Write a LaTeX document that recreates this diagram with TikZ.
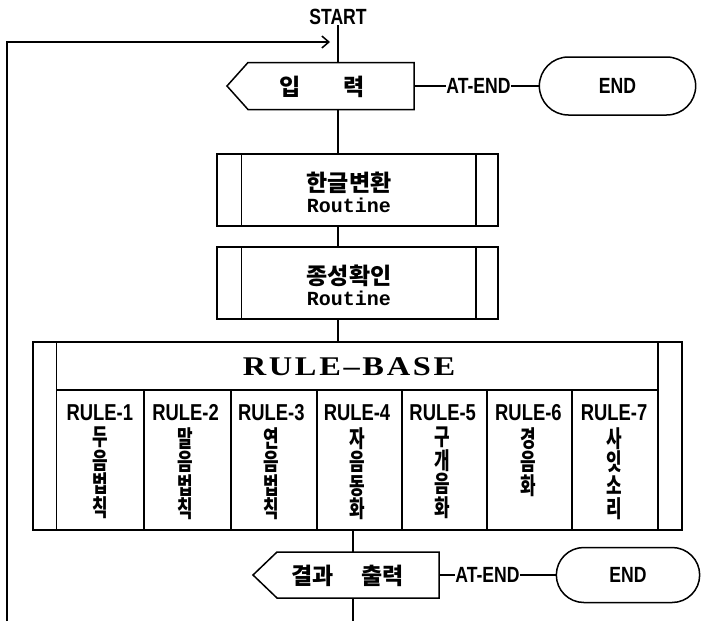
\documentclass[tikz,border=0pt]{standalone}
\usepackage{fontspec}
\setmainfont{Noto Sans CJK KR}
\newfontfamily\krnarrow{Noto Sans CJK KR}[FakeStretch=0.72]
\newfontfamily\latnarrow{Liberation Sans}[FakeStretch=0.8]
\newfontfamily\routmono{Liberation Mono}
\newfontfamily\headserif{Liberation Serif}[FakeStretch=1.2,LetterSpace=10]
\usetikzlibrary{arrows.meta,shapes.misc}

\tikzset{
  line/.style={line width=1.5pt},
  iobox/.style={inner sep=0pt, outer sep=0pt},
  subbox/.style={draw, line width=1.5pt, inner sep=0pt, minimum width=281pt, minimum height=72pt},
  endbox/.style={draw, rounded rectangle, line width=1.5pt, font=\latnarrow\bfseries\fontsize{22pt}{22pt}\selectfont},
  latin/.style={font=\latnarrow\bfseries\fontsize{22pt}{22pt}\selectfont, inner sep=0.5pt},
  hangul/.style={font=\bfseries\fontsize{23pt}{21pt}\selectfont, align=center, inner sep=0pt},
  rulename/.style={font=\latnarrow\bfseries\fontsize{23pt}{23pt}\selectfont, inner sep=0pt},
  ruletext/.style={font=\krnarrow\bfseries\fontsize{23.5pt}{23.5pt}\selectfont, align=center, inner sep=0pt, anchor=north}
}

\newcommand{\routword}{{\routmono\bfseries\fontsize{20pt}{21pt}\selectfont Routine}}

\begin{document}
\begin{tikzpicture} [x=1pt,y=-1pt]

\useasboundingbox (0,0) rectangle (706,621);

% input
\node [latin] (start) at (338,17) {START};
\node [iobox, minimum width=166pt, minimum height=47pt] (input) at (331,86) {};
\draw [line] (input.north east) -- (input.north west) -- ++(-21,23.5) -- (input.south west) -- (input.south east) -- cycle;
\node [hangul] (inputtext) at (322,87) {입\hspace{42pt}력};
\node [latin] (atend1) at (478.5,86) {AT-END};
\node [endbox, minimum width=163pt, minimum height=58pt] (end1) at (617.5,86) {END};
\draw [line] (input.east) -- (atend1.west);
\draw [line] (atend1.east) -- (end1.west);

% routines
\node [subbox] (hgconv) at (357.5,190) {};
\draw [line] ([xshift=25pt]hgconv.north west) -- ([xshift=25pt]hgconv.south west);
\draw [line] ([xshift=-23pt]hgconv.north east) -- ([xshift=-23pt]hgconv.south east);
\node [hangul] (hgconvtext) at (349,192) {한글변환\\\routword};

\node [subbox] (fscheck) at (357.5,283) {};
\draw [line] ([xshift=25pt]fscheck.north west) -- ([xshift=25pt]fscheck.south west);
\draw [line] ([xshift=-23pt]fscheck.north east) -- ([xshift=-23pt]fscheck.south east);
\node [hangul] (fschecktext) at (349,285) {종성확인\\\routword};

% rule base
\node [draw, line width=1.5pt, inner sep=0pt, minimum width=649pt, minimum height=188pt] (rulebase) at (357.5,436) {};
\draw [line] ([xshift=24pt]rulebase.north west) -- ([xshift=24pt]rulebase.south west);
\draw [line] ([xshift=-25pt]rulebase.north east) -- ([xshift=-25pt]rulebase.south east);
\draw [line] (57,390) -- (657,390);
\foreach \x in {144,231,317,402,487,572}
  \draw [line] (\x,390) -- (\x,530);
\node [font=\headserif\bfseries\fontsize{27pt}{27pt}\selectfont] (rbtitle) at (349,367) {RULE–BASE};

\foreach \words [count=\n] in {두\\음\\법\\칙, 말\\음\\법\\칙, 연\\음\\법\\칙, 자\\음\\동\\화, 구\\개\\음\\화, 경\\음\\화, 사\\잇\\소\\리} {
  \node [rulename] (rule\n) at (14.15+85.71*\n,413) {RULE-\n};
  \node [ruletext] (rulekr\n) at (14.15+85.71*\n,427) {\words};
}

% output
\node [iobox, minimum width=162pt, minimum height=46pt] (output) at (358,575) {};
\draw [line] (output.north east) -- (output.north west) -- ++(-24,23) -- (output.south west) -- (output.south east) -- cycle;
\node [hangul] (outtext) at (347.5,576) {결과\hspace{28pt}출력};
\node [latin] (atend2) at (487.5,575) {AT-END};
\node [endbox, minimum width=150pt, minimum height=55pt] (end2) at (628,575) {END};
\draw [line] (output.east) -- (atend2.west);
\draw [line] (atend2.east) -- (end2.west);

% flow
\coordinate (lowend) at (353,621);
\draw [line] (start.south) -- (start.south |- input.north);
\draw [line] (start.south |- input.south) -- (start.south |- hgconv.north);
\draw [line] (start.south |- hgconv.south) -- (start.south |- fscheck.north);
\draw [line] (start.south |- fscheck.south) -- (start.south |- rulebase.north);
\draw [line] (lowend |- rulebase.south) -- (lowend |- output.north);
\draw [line] (lowend |- output.south) -- (lowend);

% loop back
\coordinate (loopstart) at (7,621);
\coordinate (loopend) at (330,42);
\draw [line, -{Straight Barb[length=7pt,width=12pt]}] (loopstart) |- (loopend);

\end{tikzpicture}
\end{document}
